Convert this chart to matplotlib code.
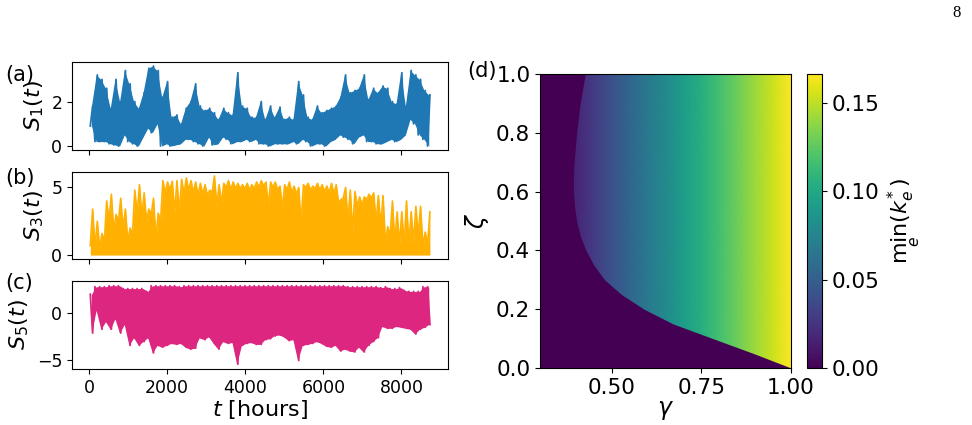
import numpy as np
import matplotlib
matplotlib.use("Agg")
import matplotlib.pyplot as plt

# time bins of 120 hours over one year (8760 h)
bin_hours = 120
t_start = np.arange(0, 8760, bin_hours)

# (a) S_1(t): per-bin high / low
s1_hi = [1.8, 3.2, 3.0, 2.6, 1.7, 3.0, 2.0, 3.4, 2.8, 2.0, 1.7, 2.4, 3.5, 3.6, 3.4, 2.2,
         2.9, 1.3, 1.4, 1.0, 1.7, 2.0, 2.8, 1.8, 1.6, 1.7, 1.5, 1.2, 1.7, 1.5, 1.4, 3.3,
         1.8, 1.7, 1.3, 1.3, 2.0, 1.2, 1.8, 1.3, 1.75, 1.2, 1.3, 1.2, 2.9, 2.3, 1.3, 1.2,
         1.8, 1.5, 1.6, 1.7, 1.8, 2.2, 3.2, 2.4, 2.5, 2.6, 3.2, 2.1, 2.6, 2.4, 2.7, 2.6,
         2.0, 1.9, 3.3, 1.8, 3.4, 3.2, 3.0, 2.5, 2.3]
s1_lo = [0.9, 0.2, 0.2, 0.2, 0.1, 0.05, 0.0, 0.5, 0.2, 0.1, 0.0, 0.4, 0.8, 0.6, 1.0, 0.0,
         0.1, 0.0, 0.05, 0.1, 0.3, 0.3, 0.2, 0.1, 0.0, 0.4, 0.05, 0.1, 0.4, 0.3, 0.1, 0.2,
         0.2, 0.3, 0.2, 0.3, 0.1, 0.1, 0.0, 0.1, 0.1, 0.1, 0.1, 0.2, 0.1, 0.3, 0.2, 0.0,
         0.1, 0.1, 0.0, 0.2, 0.3, 0.5, 0.4, 0.3, 0.1, 0.4, 0.5, 0.2, 0.2, 0.1, 0.1, 0.2,
         0.3, 0.2, 0.3, 0.5, 1.2, 1.0, 0.5, 0.3, 0.0]

# (b) S_3(t): spike tops and dips of the top edge (signal drops to 0 every night)
s3_hi = [3.4, 2.5, 1.6, 4.0, 4.5, 3.0, 4.2, 3.4, 2.0, 4.8, 5.2, 4.6, 3.4, 4.2, 3.1, 5.5,
         5.4, 5.45, 5.5, 5.6, 5.7, 5.5, 5.4, 5.3, 5.2, 4.8, 5.85, 5.2, 5.3, 5.5, 5.4, 5.3,
         5.2, 5.3, 5.2, 5.4, 5.5, 5.4, 5.4, 5.4, 5.1, 5.2, 5.4, 5.1, 5.0, 5.2, 5.3, 5.1,
         5.3, 5.2, 5.1, 5.3, 5.2, 4.1, 5.0, 4.8, 4.7, 4.3, 4.3, 4.5, 4.6, 4.4, 4.4, 2.1,
         4.0, 3.2, 3.2, 4.0, 3.2, 3.6, 3.6, 1.7, 3.2]
s3_dip = [0.7, 0.6, 0.5, 1.0, 2.5, 1.8, 2.5, 2.0, 1.0, 1.5, 3.0, 2.8, 2.5, 3.0, 1.2, 2.5,
          4.6, 4.8, 3.1, 3.1, 4.5, 4.8, 4.6, 4.4, 4.5, 4.4, 4.6, 3.6, 3.8, 5.0, 4.8, 4.9,
          4.9, 4.9, 4.8, 4.9, 5.0, 5.1, 3.6, 5.0, 4.8, 3.4, 4.8, 4.6, 4.5, 2.3, 5.0, 4.8,
          4.9, 4.8, 4.7, 4.6, 4.5, 3.9, 4.2, 2.5, 1.7, 3.6, 3.7, 4.1, 4.2, 2.4, 2.1, 0.9,
          1.4, 0.9, 0.8, 0.7, 0.8, 0.9, 1.4, 0.7, 0.8]

# (c) S_5(t): per-bin high / low
s5_hi = [2.0, 2.8, 2.8, 2.8, 2.9, 2.9, 2.9, 2.6, 2.6, 2.6, 2.6, 2.6, 2.3, 2.9, 2.9, 2.9,
         2.9, 2.9, 2.9, 2.8, 2.9, 2.9, 2.9, 2.9, 2.9, 2.9, 2.9, 2.9, 2.9, 2.9, 2.9, 2.9,
         2.9, 2.9, 2.9, 2.9, 2.9, 2.9, 2.9, 2.9, 2.9, 2.9, 2.9, 2.9, 2.9, 2.9, 2.9, 2.9,
         2.9, 2.9, 2.9, 2.9, 2.9, 2.9, 2.9, 2.8, 2.8, 2.8, 2.8, 2.8, 2.8, 2.8, 2.7, 2.8,
         2.6, 2.6, 2.7, 2.4, 2.3, 2.3, 2.3, 2.8, 2.8]
s5_lo = [-2.1, 0.3, -1.7, -0.9, -1.7, -0.6, -2.1, -1.2, -3.4, -2.6, -3.4, -3.0, -2.6, -4.2,
         -3.4, -3.6, -3.4, -3.2, -3.3, -3.2, -3.6, -3.8, -3.7, -2.6, -2.8, -2.5, -3.2, -3.8,
         -3.0, -3.2, -3.1, -5.4, -3.4, -3.2, -3.1, -3.3, -3.3, -2.8, -2.7, -2.4, -2.3, -2.5,
         -2.9, -2.8, -5.0, -3.4, -3.3, -3.2, -3.0, -3.2, -3.5, -3.6, -3.4, -4.0, -3.8, -4.0,
         -4.1, -3.6, -4.1, -3.4, -3.0, -2.6, -1.4, -1.6, -1.6, -1.4, -1.5, -1.6, -1.7, -2.2,
         -1.7, -1.5, -1.2]

# (d) heatmap: colour value along gamma (above the boundary) and the boundary curve
gamma_pts = [0.30, 0.35, 0.40, 0.45, 0.50, 0.55, 0.60, 0.65, 0.70, 0.75, 0.80, 0.85, 0.90, 0.95, 1.00]
kmin_vals = [0.000, 0.004, 0.017, 0.029, 0.042, 0.054, 0.067, 0.079, 0.092, 0.104, 0.117,
             0.129, 0.142, 0.154, 0.1665]
zeta_edge = [0.0, 0.05, 0.10, 0.15, 0.20, 0.25, 0.30, 0.35, 0.40, 0.45, 0.50, 0.55, 0.60,
             0.65, 0.70, 0.80, 0.90, 1.00]
gamma_edge = [1.0, 0.894, 0.782, 0.671, 0.590, 0.527, 0.480, 0.450, 0.428, 0.412, 0.402,
              0.396, 0.393, 0.393, 0.395, 0.402, 0.412, 0.426]

c_blue = "#1f77b4"
c_gold = "#FFB000"
c_pink = "#DC267F"


def zigzag(a, b):
    t = np.column_stack([t_start + 30, t_start + 90]).ravel()
    v = np.column_stack([a, b]).ravel()
    return t, v


fig = plt.figure(figsize=(9.72, 4.25), dpi=100)
ax_a = fig.add_axes([0.0741, 0.647, 0.387, 0.207])
ax_b = fig.add_axes([0.0741, 0.3906, 0.387, 0.2047])
ax_c = fig.add_axes([0.0741, 0.1318, 0.387, 0.207])
ax_d = fig.add_axes([0.5556, 0.1341, 0.2582, 0.6918])
cax = fig.add_axes([0.8302, 0.1341, 0.0154, 0.6918])

tick_fs = 12.5
lab_fs = 16
t_mid = t_start + bin_hours / 2

ax_a.fill_between(t_mid, s1_lo, s1_hi, color=c_blue, lw=0)
t, v = zigzag(s1_lo, s1_hi)
ax_a.plot(t, v, color=c_blue, lw=1.3)
ax_a.set_ylim(-0.18, 3.78)
ax_a.set_yticks([0, 2])
ax_a.set_ylabel(r"$S_1(t)$", fontsize=lab_fs)

t, v = zigzag(s3_dip, s3_hi)
ax_b.fill_between(t, 0, v, color=c_gold, lw=0)
ax_b.plot(t, v, color=c_gold, lw=1.2)
ax_b.set_ylim(-0.29, 6.14)
ax_b.set_yticks([0, 5])
ax_b.set_ylabel(r"$S_3(t)$", fontsize=lab_fs)

ax_c.fill_between(t_mid, s5_lo, s5_hi, color=c_pink, lw=0)
t, v = zigzag(s5_hi, s5_lo)
ax_c.plot(t, v, color=c_pink, lw=1.3)
ax_c.set_ylim(-5.9, 3.4)
ax_c.set_yticks([-5, 0])
ax_c.set_ylabel(r"$S_5(t)$", fontsize=lab_fs)
ax_c.set_xlabel(r"$t$ [hours]", fontsize=lab_fs, labelpad=1)

for ax in (ax_a, ax_b, ax_c):
    ax.set_xlim(-438, 9198)
    ax.set_xticks([0, 2000, 4000, 6000, 8000])
    ax.tick_params(labelsize=tick_fs)
for ax in (ax_a, ax_b):
    ax.tick_params(labelbottom=False)

# heatmap
cmap = plt.get_cmap("viridis")
vmax = 0.1665
C = np.vstack([kmin_vals, kmin_vals])
mesh = ax_d.pcolormesh(gamma_pts, [0, 1], C, shading="gouraud", cmap=cmap, vmin=0, vmax=vmax)
ax_d.fill_betweenx(zeta_edge, 0.3, gamma_edge, color=cmap(0.0), lw=0)
ax_d.set_xlim(0.3, 1.0)
ax_d.set_ylim(0.0, 1.0)
ax_d.set_xticks([0.5, 0.75, 1.0])
ax_d.set_xticklabels(["0.50", "0.75", "1.00"])
ax_d.set_yticks([0.0, 0.2, 0.4, 0.6, 0.8, 1.0])
ax_d.tick_params(labelsize=15.5)
ax_d.set_xlabel(r"$\gamma$", fontsize=17, labelpad=0)
ax_d.set_ylabel(r"$\zeta$", fontsize=17)

cb = fig.colorbar(mesh, cax=cax)
cb.set_ticks([0.0, 0.05, 0.10, 0.15])
cb.ax.tick_params(labelsize=15.5)
cb.set_label(r"$\min_e(k_e^*)$", fontsize=16)
cb.outline.set_linewidth(0.8)

fig.text(0.005, 1 - 75 / 425, "(a)", fontsize=15, va="center")
fig.text(0.005, 1 - 178 / 425, "(b)", fontsize=15, va="center")
fig.text(0.005, 1 - 283 / 425, "(c)", fontsize=15, va="center")
fig.text(467 / 972, 1 - 71 / 425, "(d)", fontsize=15, va="center")
fig.text(0.988, 0.97, "8", fontsize=12, family="Liberation Serif", ha="right", va="center")

fig.savefig("out.png", dpi=100)
